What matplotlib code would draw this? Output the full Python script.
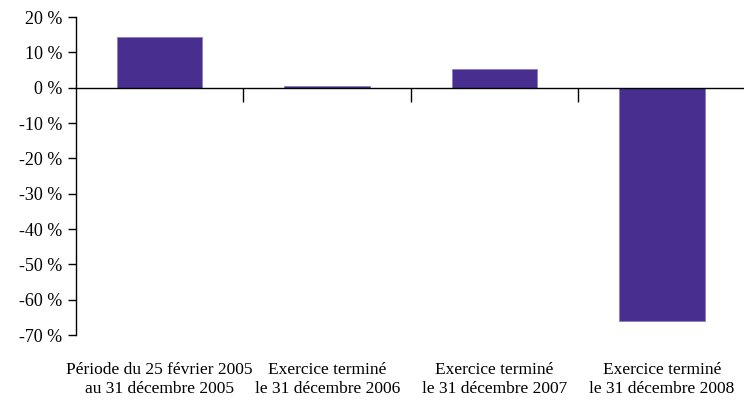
import matplotlib
matplotlib.use('Agg')
import matplotlib.pyplot as plt
import matplotlib.transforms as mtransforms

# Data
categories = [
    "Période du 25 février 2005\nau 31 décembre 2005",
    "Exercice terminé\nle 31 décembre 2006",
    "Exercice terminé\nle 31 décembre 2007",
    "Exercice terminé\nle 31 décembre 2008",
]
returns = [14.3, 0.4, 5.3, -66.0]
yticks = [20, 10, 0, -10, -20, -30, -40, -50, -60, -70]

plt.rcParams['font.family'] = ['Liberation Serif', 'DejaVu Serif']

fig = plt.figure(figsize=(7.44, 4.01), dpi=100)
ax = fig.add_axes([76 / 744, 1 - 335 / 401, 1 - 76 / 744, (335 - 17) / 401])

x = list(range(len(categories)))
ax.bar(x, returns, width=0.51, color='#482e8f', edgecolor='#8a7fc0', linewidth=0.6)

ax.set_xlim(-0.5, 3.49)
ax.set_ylim(-70, 20)

ax.spines['top'].set_visible(False)
ax.spines['right'].set_visible(False)
ax.spines['bottom'].set_position(('data', 0))
ax.spines['left'].set_linewidth(1.0)
ax.spines['bottom'].set_linewidth(1.0)

ax.set_yticks(yticks)
ax.set_yticklabels([f"{v} %" for v in yticks], fontsize=13)
ax.tick_params(axis='y', direction='out', length=6, width=1, pad=4)

# separators between categories on the zero line
ax.set_xticks([0.5, 1.5, 2.5])
ax.set_xticklabels([])
ax.tick_params(axis='x', direction='out', length=10, width=1)

trans = mtransforms.blended_transform_factory(ax.transData, ax.transAxes)
for i, lab in enumerate(categories):
    ax.text(i, -0.086, lab, transform=trans, ha='center', va='top',
            fontsize=12.5, linespacing=1.25)

fig.savefig('out.png', dpi=100)
